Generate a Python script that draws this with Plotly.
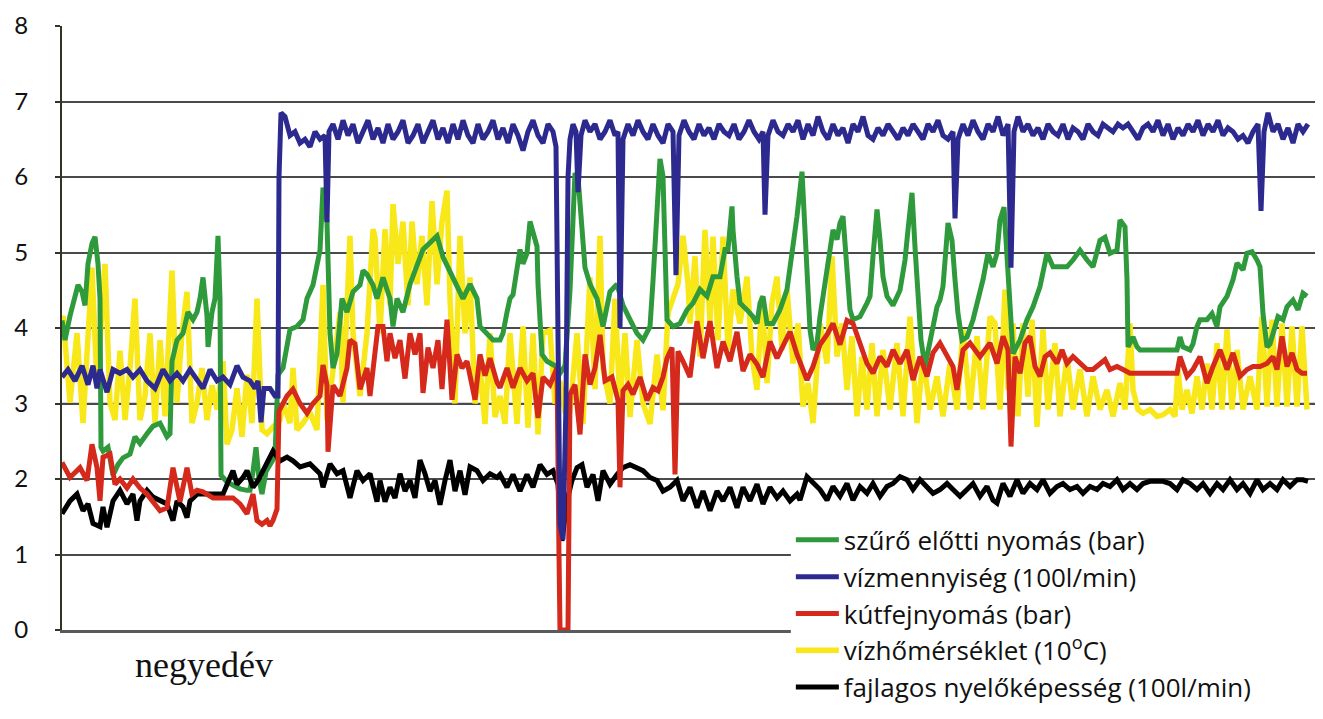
import plotly.graph_objects as go

# time index (sample number) and values
GREEN = [(62,4.1),(65,3.84),(70,4.16),(75,4.39),(78,4.57),(82,4.48),(85,4.3),(88,4.85),(92,5.12),(95,5.21),(98,4.85),(100,4.39),
 (101,2.42),(103,2.37),(108,2.42),(113,2.05),(118,2.19),(123,2.28),(130,2.33),(135,2.56),(140,2.47),(147,2.6),(153,2.7),(160,2.74),
 (167,2.56),(170,2.6),(172,3.56),(177,3.84),(183,3.93),(188,4.21),(193,4.11),(197,4.21),(200,4.39),(203,4.67),(207,4.16),(208,3.75),
 (212,4.21),(215,4.39),(218,5.22),(220,4.39),(221,2.05),(227,1.96),(233,1.91),(240,1.87),(247,1.85),(250,1.85),(253,2.1),(256,2.42),
 (259,2.0),(262,1.8),(266,2.1),(270,2.2),(275,2.3),(278,3.38),(283,3.47),(290,3.98),(297,4.02),(303,4.11),(307,4.39),(313,4.57),
 (320,5.03),(323,5.86),(327,5.4),(330,3.93),(333,3.47),(337,3.66),(342,4.39),(347,4.21),(353,4.48),(360,4.57),(363,4.76),(367,4.71),
 (373,4.57),(377,4.39),(383,4.67),(390,4.39),(393,4.02),(397,4.39),(403,4.21),(410,4.58),(417,4.85),(423,5.04),(430,5.13),(437,5.22),
 (443,4.94),(450,4.76),(457,4.58),(463,4.39),(470,4.58),(477,4.39),(480,4.02),(487,3.93),(493,3.84),(500,3.84),(503,3.93),(507,4.21),
 (510,4.39),(513,4.44),(517,4.85),(520,5.04),(523,4.85),(527,4.99),(530,5.41),(533,5.27),(537,5.08),(538,4.58),(540,4.16),(542,3.65),
 (547,3.56),(555,3.5),(560,3.4),(565,3.5),(570,4.5),(573,5.5),(575,6.05),(578,6.0),(582,5.4),(585,4.8),(590,4.58),(597,4.39),
 (603,4.02),(610,4.48),(617,4.58),(623,4.3),(630,4.11),(637,3.93),(643,3.84),(650,4.02),(653,4.62),(657,5.41),(660,6.24),(663,6.01),
 (665,4.85),(667,4.11),(673,4.02),(680,4.06),(687,4.24),(693,4.33),(700,4.51),(707,4.42),(713,4.68),(720,4.68),(725,5.04),(728,5.04),
 (732,5.61),(733,5.3),(737,4.68),(740,4.33),(747,4.24),(753,4.15),(757,4.06),(760,4.33),(763,4.42),(767,4.06),(773,4.06),(780,4.24),
 (787,4.51),(792,4.95),(797,5.48),(802,6.07),(803,5.83),(807,4.73),(810,3.98),(813,3.71),(817,3.8),(820,4.15),(823,4.42),(827,4.86),
 (830,5.12),(833,5.3),(837,5.17),(840,5.39),(843,5.48),(847,4.68),(850,4.24),(853,4.11),(860,4.15),(867,4.33),(870,4.42),(873,4.95),
 (877,5.57),(880,5.17),(883,4.68),(887,4.42),(893,4.3),(900,4.5),(905,4.9),(908,5.3),(912,5.79),(915,5.07),(918,4.3),(921,3.84),
 (925,3.49),(930,3.84),(937,4.28),(940,4.37),(943,4.55),(948,5.39),(952,5.16),(955,4.64),(958,4.19),(962,3.84),(967,3.88),(973,4.11),
 (980,4.46),(983,4.64),(988,4.99),(993,4.81),(997,4.99),(1000,5.43),(1004,5.6),(1008,4.81),(1010,4.19),(1013,3.66),(1020,3.84),
 (1027,4.11),(1033,4.28),(1040,4.55),(1047,4.99),(1053,4.81),(1060,4.81),(1067,4.81),(1073,4.9),(1080,5.03),(1087,4.9),(1093,4.81),
 (1100,5.16),(1105,5.2),(1110,4.99),(1117,5.03),(1120,5.43),(1125,5.34),(1127,4.64),(1128,3.75),(1133,3.88),(1137,3.75),(1140,3.71),
 (1177,3.71),(1180,3.88),(1183,3.75),(1190,3.71),(1193,3.79),(1197,4.02),(1200,4.11),(1207,4.11),(1212,4.19),(1217,4.02),(1220,4.28),
 (1227,4.42),(1233,4.64),(1237,4.86),(1243,4.77),(1247,4.99),(1252,5.01),(1257,4.9),(1260,4.81),(1263,4.19),(1267,3.75),(1270,3.79),
 (1273,3.92),(1278,4.15),(1283,4.11),(1287,4.28),(1293,4.37),(1298,4.24),(1303,4.46),(1307,4.42)]

BLUE = [(62,3.35),(68,3.45),(75,3.3),(82,3.5),(88,3.25),(93,3.5),(97,3.2),(100,3.45),(107,3.15),(113,3.45),(120,3.4),(127,3.45),
 (133,3.35),(140,3.45),(147,3.3),(155,3.2),(163,3.45),(170,3.3),(177,3.4),(183,3.3),(190,3.45),(197,3.3),(203,3.2),(210,3.45),
 (217,3.3),(223,3.35),(230,3.25),(237,3.5),(243,3.35),(250,3.3),(255,3.2),(258,3.3),(261,2.75),(264,3.2),(270,3.2),(275,3.1),
 (278,3.1),(279,6.0),(281,6.85),(285,6.8),(290,6.55),(295,6.6),(300,6.45),(305,6.5),(310,6.4),(315,6.6),(320,6.5),(325,6.55),
 (327,5.4),(329,6.6),(333,6.7),(338,6.5),(343,6.75),(348,6.55),(353,6.7),(358,6.45),(363,6.6),(368,6.75),(373,6.5),(378,6.65),
 (383,6.45),(388,6.7),(393,6.5),(398,6.6),(403,6.75),(408,6.45),(413,6.55),(418,6.7),(423,6.45),(428,6.6),(433,6.75),(438,6.5),
 (443,6.65),(448,6.45),(453,6.7),(458,6.5),(463,6.75),(468,6.55),(473,6.45),(478,6.7),(483,6.5),(488,6.6),(493,6.75),(498,6.5),
 (503,6.65),(508,6.45),(513,6.7),(518,6.55),(523,6.35),(528,6.6),(533,6.75),(538,6.55),(543,6.45),(548,6.7),(553,6.6),(556,6.4),
 (558,3.0),(560,1.4),(563,1.2),(566,3.0),(568,6.0),(570,6.5),(573,6.7),(576,6.6),(578,5.8),(581,6.55),(585,6.75),(590,6.6),
 (595,6.7),(600,6.5),(605,6.6),(610,6.75),(615,6.55),(618,6.6),(620,4.0),(623,6.5),(628,6.7),(633,6.55),(638,6.75),(643,6.6),
 (648,6.5),(653,6.7),(658,6.55),(663,6.45),(668,6.7),(673,6.6),(676,4.7),(679,6.55),(684,6.75),(689,6.6),(694,6.5),(699,6.7),
 (704,6.55),(709,6.65),(714,6.5),(719,6.7),(724,6.6),(729,6.55),(734,6.7),(739,6.5),(744,6.6),(749,6.75),(754,6.6),(759,6.5),
 (763,6.6),(765,5.5),(768,6.55),(773,6.75),(778,6.6),(783,6.55),(788,6.7),(793,6.6),(798,6.75),(803,6.5),(808,6.7),(813,6.55),
 (818,6.8),(823,6.6),(828,6.5),(833,6.7),(838,6.55),(843,6.65),(848,6.45),(853,6.7),(858,6.6),(863,6.8),(868,6.55),(873,6.5),
 (878,6.65),(883,6.55),(888,6.7),(893,6.6),(898,6.5),(903,6.65),(908,6.55),(913,6.7),(918,6.6),(923,6.5),(928,6.7),(933,6.6),
 (938,6.75),(943,6.55),(948,6.5),(953,6.6),(955,5.45),(958,6.5),(963,6.7),(968,6.55),(973,6.75),(978,6.6),(983,6.5),(988,6.7),
 (993,6.6),(998,6.8),(1003,6.55),(1008,6.7),(1011,4.8),(1014,6.6),(1018,6.8),(1023,6.6),(1028,6.7),(1033,6.55),(1038,6.65),
 (1043,6.5),(1048,6.7),(1053,6.6),(1058,6.55),(1063,6.7),(1068,6.5),(1073,6.65),(1078,6.6),(1083,6.5),(1088,6.7),(1093,6.6),
 (1098,6.55),(1103,6.7),(1108,6.65),(1113,6.6),(1118,6.7),(1123,6.65),(1128,6.7),(1133,6.6),(1138,6.5),(1143,6.65),(1148,6.7),
 (1153,6.6),(1158,6.75),(1163,6.55),(1168,6.7),(1173,6.5),(1178,6.65),(1183,6.55),(1188,6.7),(1193,6.6),(1198,6.75),(1203,6.55),
 (1208,6.7),(1213,6.6),(1218,6.75),(1223,6.55),(1228,6.65),(1233,6.6),(1238,6.5),(1243,6.55),(1248,6.45),(1253,6.6),(1258,6.7),
 (1261,5.55),(1264,6.6),(1268,6.85),(1273,6.6),(1278,6.7),(1283,6.5),(1288,6.65),(1293,6.45),(1298,6.7),(1303,6.6),(1308,6.7)]

RED = [(62,2.22),(70,2.02),(80,2.15),(87,1.98),(92,2.46),(97,2.15),(100,1.71),(103,2.29),(110,2.33),(115,1.93),(120,2.0),(127,1.88),
 (133,2.0),(140,1.88),(147,1.8),(153,1.7),(160,1.58),(167,1.62),(173,2.15),(180,1.7),(187,2.15),(192,1.8),(197,1.85),(203,1.83),
 (213,1.75),(223,1.75),(233,1.75),(240,1.67),(247,1.54),(253,1.8),(257,1.45),(262,1.4),(267,1.45),(270,1.38),(273,1.45),(277,1.6),
 (279,2.9),(287,3.1),(293,3.19),(300,3.0),(307,2.87),(313,3.0),(320,3.1),(323,3.51),(327,3.24),(328,2.36),(333,3.24),(340,3.1),
 (347,3.47),(350,3.84),(355,3.79),(360,3.19),(367,3.47),(370,3.1),(375,3.65),(378,4.02),(383,4.02),(387,3.56),(390,3.93),(395,3.6),
 (400,3.84),(405,3.33),(410,3.93),(415,3.65),(420,3.93),(423,3.14),(428,3.74),(433,3.47),(438,3.84),(442,3.19),(447,4.11),(452,3.05),
 (457,3.65),(462,3.47),(467,3.56),(472,3.24),(475,3.05),(480,3.65),(485,3.37),(490,3.6),(497,3.28),(500,3.21),(507,3.47),(513,3.21),
 (520,3.47),(527,3.3),(533,3.4),(538,2.81),(543,3.35),(550,3.25),(557,3.47),(559,1.0),(560,0.0),(568,0.0),(570,3.12),(575,3.25),
 (580,2.59),(585,3.65),(590,3.25),(595,3.47),(600,3.91),(605,3.3),(612,3.35),(618,3.04),(620,1.89),(623,3.17),(628,3.25),(633,3.12),
 (640,3.35),(647,3.04),(653,3.21),(658,3.17),(663,3.35),(667,3.6),(672,3.74),(675,2.06),(678,3.69),(683,3.56),(690,3.35),(697,4.09),
 (703,3.6),(710,4.09),(717,3.47),(723,3.82),(730,3.56),(737,3.95),(743,3.43),(750,3.65),(757,3.52),(763,3.35),(770,3.82),(777,3.6),
 (783,3.78),(790,3.95),(797,3.65),(800,3.56),(807,3.31),(813,3.49),(820,3.78),(827,3.91),(833,4.06),(840,3.78),(847,4.1),(853,4.06),
 (860,3.78),(867,3.53),(873,3.4),(880,3.62),(887,3.49),(893,3.71),(900,3.53),(907,3.71),(913,3.31),(920,3.62),(927,3.36),(933,3.67),
 (940,3.8),(947,3.62),(953,3.49),(957,3.18),(963,3.71),(970,3.8),(980,3.62),(990,3.8),(997,3.53),(1003,3.89),(1008,3.71),(1011,2.43),
 (1015,3.62),(1020,3.4),(1025,3.8),(1030,3.89),(1035,3.49),(1040,3.36),(1045,3.62),(1050,3.67),(1057,3.53),(1062,3.71),(1067,3.53),
 (1073,3.62),(1080,3.53),(1087,3.45),(1093,3.45),(1100,3.53),(1105,3.58),(1110,3.45),(1117,3.49),(1123,3.45),(1130,3.4),(1177,3.4),
 (1180,3.62),(1187,3.36),(1193,3.45),(1200,3.62),(1207,3.27),(1213,3.49),(1220,3.71),(1227,3.45),(1233,3.67),(1240,3.36),(1247,3.45),
 (1253,3.49),(1260,3.49),(1267,3.53),(1273,3.62),(1277,3.45),(1282,3.89),(1287,3.49),(1292,3.67),(1297,3.45),(1302,3.4),(1307,3.4)]

YELLOW = [(62,4.1),(63,4.16),(70,3.01),(77,3.93),(83,2.74),(92,4.8),(97,3.24),(102,4.3),(105,4.85),(110,3.01),(115,2.78),(120,3.7),
 (125,2.78),(130,3.47),(135,4.39),(140,2.78),(145,3.1),(150,3.93),(155,2.74),(160,3.84),(165,2.83),(172,4.76),(177,3.01),(182,3.93),
 (187,4.48),(192,2.74),(197,3.01),(202,3.47),(207,2.78),(212,3.24),(217,2.92),(223,3.56),(227,2.46),(232,2.65),(237,3.2),(242,2.56),
 (247,3.38),(252,2.74),(257,4.39),(262,2.65),(267,2.6),(273,2.69),(280,2.78),(283,3.01),(290,2.74),(293,3.47),(297,2.65),(303,2.74),
 (310,2.88),(317,2.65),(323,4.57),(327,2.78),(333,3.47),(340,4.21),(343,3.01),(350,5.22),(353,3.93),(360,3.1),(367,3.93),(373,5.31),
 (375,5.2),(380,3.93),(385,5.31),(390,4.3),(393,5.64),(398,4.85),(403,5.41),(408,4.3),(412,5.41),(417,4.58),(422,5.22),(427,4.3),
 (432,5.68),(437,4.58),(442,5.41),(447,5.82),(450,4.39),(455,3.0),(460,5.22),(465,3.93),(470,4.67),(475,3.0),(480,3.47),(485,2.73),
 (490,3.93),(495,2.82),(500,3.1),(505,2.73),(510,3.93),(517,2.73),(523,4.02),(528,2.68),(533,3.93),(538,2.59),(543,3.93),(550,3.97),
 (555,3.0),(560,3.3),(565,2.9),(570,2.91),(577,3.93),(583,2.73),(590,4.67),(595,3.19),(600,5.22),(603,3.47),(610,3.0),(615,4.39),
 (620,3.0),(625,3.93),(630,2.82),(637,3.84),(643,3.0),(650,2.73),(657,3.65),(663,2.91),(668,4.2),(673,4.39),(678,4.58),(683,5.22),
 (688,4.58),(690,4.06),(695,4.95),(700,3.62),(705,5.3),(710,4.06),(713,5.21),(718,3.84),(723,5.21),(728,3.71),(733,4.51),(740,4.06),
 (747,4.68),(752,3.62),(757,3.18),(762,4.42),(767,3.27),(772,4.33),(777,4.68),(782,3.71),(787,4.51),(793,3.53),(798,4.06),(803,2.96),
 (808,3.27),(813,2.74),(820,4.06),(827,3.53),(832,4.95),(837,3.62),(842,4.06),(847,3.18),(852,3.89),(857,2.83),(862,3.62),(867,2.92),
 (872,3.8),(877,2.83),(883,3.71),(890,2.92),(897,3.8),(903,2.83),(910,4.15),(917,2.74),(923,3.62),(930,2.92),(937,3.36),(943,2.83),
 (950,3.53),(957,2.92),(963,3.98),(970,2.92),(977,3.89),(983,2.92),(990,4.15),(995,4.06),(1000,2.92),(1005,4.51),(1008,3.18),
 (1013,4.06),(1018,2.83),(1023,4.06),(1028,3.09),(1032,4.11),(1037,2.69),(1043,3.98),(1048,2.92),(1055,3.8),(1060,2.83),(1067,3.62),
 (1073,2.92),(1080,3.45),(1087,2.83),(1093,3.36),(1100,2.92),(1107,3.18),(1113,2.83),(1120,3.27),(1125,2.92),(1130,4.06),(1133,3.18),
 (1138,2.92),(1143,2.87),(1150,2.92),(1157,2.83),(1163,2.85),(1170,2.92),(1175,2.83),(1178,3.45),(1182,2.92),(1187,3.18),(1192,2.87),
 (1197,3.36),(1202,2.92),(1207,3.53),(1212,2.92),(1217,3.8),(1222,2.92),(1227,3.98),(1232,2.92),(1237,3.71),(1243,2.92),(1250,3.36),
 (1257,2.92),(1262,4.15),(1267,2.96),(1272,4.11),(1277,2.96),(1282,4.06),(1287,2.96),(1292,4.02),(1297,2.96),(1302,4.02),(1307,2.92)]

BLACK = [(62,1.54),(70,1.71),(77,1.8),(83,1.58),(88,1.67),(93,1.41),(100,1.37),(103,1.63),(107,1.36),(113,1.71),(120,1.85),(127,1.67),
 (133,1.8),(137,1.45),(140,1.71),(147,1.85),(153,1.76),(160,1.71),(167,1.67),(173,1.45),(177,1.71),(183,1.63),(187,1.49),(190,1.71),
 (197,1.8),(207,1.8),(217,1.8),(223,1.8),(230,2.02),(233,2.11),(237,1.93),(243,2.02),(247,2.11),(250,1.98),(253,1.89),(258,1.98),
 (263,2.11),(268,2.24),(273,2.37),(280,2.24),(287,2.29),(293,2.24),(300,2.16),(310,2.2),(320,2.07),(323,1.89),(330,2.2),(337,2.07),
 (343,2.11),(350,1.75),(357,2.11),(363,1.98),(370,2.07),(377,1.7),(380,1.98),(385,1.7),(390,1.89),(395,1.75),(400,2.07),(405,1.84),
 (410,1.98),(415,1.75),(420,2.25),(425,2.07),(430,1.84),(435,1.98),(440,1.66),(445,1.98),(450,2.25),(455,1.84),(460,2.11),(465,1.79),
 (470,2.16),(477,2.11),(483,1.98),(490,2.07),(497,2.02),(500,2.06),(507,1.89),(513,2.06),(520,1.84),(527,2.06),(533,1.89),(540,2.19),
 (547,2.06),(553,2.11),(558,1.93),(562,1.18),(567,1.71),(572,1.98),(577,2.15),(582,2.19),(587,1.89),(593,2.06),(598,1.71),(603,2.11),
 (610,1.93),(617,2.06),(623,2.15),(630,2.19),(637,2.15),(643,2.11),(650,2.02),(657,1.98),(663,1.84),(670,1.89),(677,1.98),(683,1.71),
 (690,1.89),(697,1.62),(703,1.84),(710,1.58),(717,1.84),(723,1.71),(730,1.89),(737,1.62),(743,1.89),(750,1.71),(757,1.93),(763,1.67),
 (770,1.89),(777,1.75),(783,1.84),(790,1.71),(797,1.8),(800,1.72),(807,2.03),(813,1.94),(820,1.86),(827,1.72),(833,1.9),(840,1.77),
 (847,1.94),(853,1.72),(860,1.9),(867,1.81),(873,1.94),(880,1.77),(887,1.9),(893,1.94),(900,2.03),(907,1.99),(913,1.86),(920,1.99),
 (927,1.9),(933,1.81),(940,1.86),(947,1.94),(953,1.86),(960,1.77),(967,1.86),(973,1.94),(980,1.77),(987,1.9),(993,1.72),(997,1.68),
 (1003,1.94),(1010,1.77),(1017,1.99),(1023,1.81),(1030,1.94),(1037,1.86),(1043,1.99),(1050,1.81),(1057,1.9),(1063,1.94),(1070,1.86),
 (1077,1.9),(1083,1.81),(1090,1.9),(1097,1.86),(1103,1.94),(1110,1.9),(1117,1.99),(1123,1.86),(1130,1.94),(1137,1.86),(1143,1.94),
 (1150,1.97),(1157,1.97),(1163,1.97),(1170,1.94),(1177,1.86),(1183,1.99),(1190,1.94),(1197,1.86),(1203,1.94),(1210,1.81),(1217,1.94),
 (1223,1.86),(1230,1.99),(1237,1.86),(1243,1.94),(1250,1.81),(1257,1.99),(1263,1.86),(1270,1.94),(1277,1.86),(1283,1.99),(1290,1.9),
 (1297,1.99),(1303,1.99),(1308,1.97)]

NAMES = ["szűrő előtti nyomás (bar)", "vízmennyiség (100l/min)", "kútfejnyomás (bar)",
         "vízhőmérséklet (10<sup>o</sup>C)", "fajlagos nyelőképesség (100l/min)"]
Y_TICKS = [0, 1, 2, 3, 4, 5, 6, 7, 8]
X_LABEL = "negyedév"

series = [
    # (data, name index, color, line width) -- drawn in this order, legend follows name index
    (YELLOW, 3, "#f8e81a", 5.5),
    (GREEN, 0, "#2f9a3c", 5),
    (BLACK, 4, "#000000", 5),
    (RED, 2, "#d4291b", 5),
    (BLUE, 1, "#2d2a8f", 5),
]

fig = go.Figure()
for data, idx, color, w in series:
    xs = [p[0] for p in data]
    ys = [p[1] for p in data]
    fig.add_trace(go.Scatter(x=xs, y=ys, mode="lines", name=NAMES[idx],
                             line=dict(color=color, width=w),
                             legendrank=idx + 1, legendgroup=str(idx)))

grid_dark = "#4a4a4a"
LEG_X, LEG_Y = 0.578, 0.188
fig.update_layout(
    width=1315, height=711,
    paper_bgcolor="white", plot_bgcolor="white",
    margin=dict(l=54, r=0, t=18, b=89),
    xaxis=dict(range=[62, 1323], showticklabels=False, showgrid=False, zeroline=False,
               showline=True, linecolor="#5a5a5a", linewidth=3, ticks=""),
    yaxis=dict(range=[0, 8], tickvals=Y_TICKS, showgrid=True, gridcolor=grid_dark, gridwidth=2,
               zeroline=False, showline=True, linecolor="#333322", linewidth=2,
               ticks="outside", ticklen=5, tickcolor="#333", tickwidth=2,
               ticklabelstandoff=22,
               tickfont=dict(family="Lato", size=24, color="#111")),
    legend=dict(x=LEG_X, y=LEG_Y, xanchor="left", yanchor="top", bgcolor="white",
                font=dict(family="Open Sans", size=26, color="#111"),
                traceorder="grouped", tracegroupgap=0, itemwidth=43),
    showlegend=True,
)
for gv in (2, 3):
    fig.add_shape(type="line", xref="paper", x0=0, x1=1, yref="y", y0=gv, y1=gv,
                  line=dict(color="#a8a8b8", width=2), layer="between")
# white backing that extends the legend box to the right edge of the plot
fig.add_shape(type="rect", xref="paper", yref="paper", x0=LEG_X, x1=1.01, y0=-0.2, y1=LEG_Y,
              fillcolor="white", line=dict(width=0), layer="above")
fig.add_annotation(text=X_LABEL, xref="paper", yref="paper", x=0.1126, y=-0.058,
                   xanchor="center", yanchor="middle", showarrow=False,
                   font=dict(family="Liberation Serif", size=36, color="#111"))

fig.write_html("out.html")
